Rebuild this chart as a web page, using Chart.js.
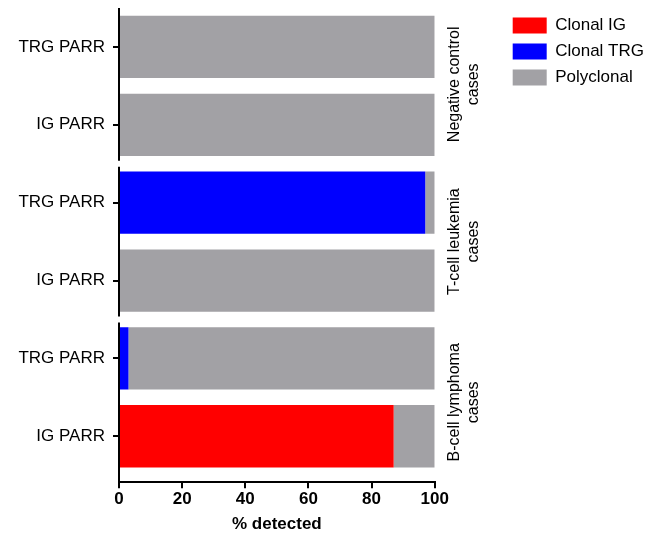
<!DOCTYPE html>
<html>
<head>
<meta charset="utf-8">
<script src="https://cdn.jsdelivr.net/npm/chart.js@4.4.1/dist/chart.umd.min.js"></script>
<style>
  html, body { margin: 0; padding: 0; background: #fff; }
  #wrap { width: 659px; height: 535px; }
</style>
</head>
<body>
<div id="wrap"><canvas id="grafico"></canvas></div>
<script>
// rows from top to bottom
const categories = ["TRG PARR", "IG PARR", "TRG PARR", "IG PARR", "TRG PARR", "IG PARR"];
const clonalIG = [0, 0, 0, 0, 0, 87];
const clonalTRG = [0, 0, 97, 0, 3, 0];
const polyclonal = [100, 100, 3, 100, 97, 13];
const xTicks = [0, 20, 40, 60, 80, 100];
// each group covers two rows
const groups = [
  { rows: [0, 1], name: ["Negative control", "cases"] },
  { rows: [2, 3], name: ["T-cell leukemia", "cases"] },
  { rows: [4, 5], name: ["B-cell lymphoma", "cases"] }
];

const fuente = "'Liberation Sans', Arial, sans-serif";

function puntos(valores) {
  return valores.map(function(v, i) { return { x: v, y: i }; });
}

// broken y axis + group labels on the right
const ejePartido = {
  id: "ejePartido",
  afterDraw(chart) {
    const ctx = chart.ctx;
    const area = chart.chartArea;
    const y = chart.scales.y;
    const hueco = 3;
    ctx.save();
    ctx.strokeStyle = "#000";
    ctx.lineWidth = 2;
    groups.forEach(function(g, k) {
      let top = k === 0 ? area.top : y.getPixelForValue(g.rows[0] - 0.5) + hueco;
      let bottom = k === groups.length - 1 ? area.bottom : y.getPixelForValue(g.rows[1] + 0.5) - hueco;
      ctx.beginPath();
      ctx.moveTo(area.left, top);
      ctx.lineTo(area.left, bottom);
      ctx.stroke();

      const mid = (top + bottom) / 2;
      ctx.save();
      ctx.translate(area.right + 20, mid);
      ctx.rotate(-Math.PI / 2);
      ctx.fillStyle = "#000";
      ctx.font = "16px " + fuente;
      ctx.textAlign = "center";
      ctx.textBaseline = "middle";
      ctx.fillText(g.name[0], 0, 0);
      ctx.fillText(g.name[1], 0, 19);
      ctx.restore();
    });
    ctx.restore();
  }
};

new Chart(document.getElementById("grafico").getContext("2d"), {
  type: "bar",
  data: {
    datasets: [{
      label: "Clonal IG",
      data: puntos(clonalIG),
      backgroundColor: "#ff0000"
    }, {
      label: "Clonal TRG",
      data: puntos(clonalTRG),
      backgroundColor: "#0000ff"
    }, {
      label: "Polyclonal",
      data: puntos(polyclonal),
      backgroundColor: "#a2a1a5"
    }]
  },
  options: {
    indexAxis: "y",
    responsive: true,
    maintainAspectRatio: false,
    animation: false,
    layout: { padding: { left: 12, top: 8, right: 5, bottom: 0 } },
    datasets: { bar: { categoryPercentage: 1, barPercentage: 0.8 } },
    scales: {
      x: {
        type: "linear",
        stacked: true,
        min: 0,
        max: 100,
        afterBuildTicks(s) { s.ticks = xTicks.map(function(v) { return { value: v }; }); },
        border: { display: true, color: "#000", width: 2 },
        grid: { drawOnChartArea: false, drawTicks: true, tickLength: 6, color: "#000", lineWidth: 2 },
        ticks: { color: "#000", padding: 1, font: { family: fuente, size: 17, weight: "bold" } },
        title: {
          display: true,
          text: "% detected",
          color: "#000",
          padding: { top: 4, bottom: 0 },
          font: { family: fuente, size: 17, weight: "bold" }
        }
      },
      y: {
        type: "linear",
        stacked: true,
        reverse: true,
        offset: false,
        min: -0.5,
        max: 5.59,
        afterFit(s) { s.paddingTop = 0; s.paddingBottom = 0; },
        border: { display: false },
        grid: { offset: false, drawOnChartArea: false, drawTicks: true, tickLength: 6, color: "#000", lineWidth: 2 },
        ticks: {
          stepSize: 1,
          includeBounds: false,
          autoSkip: false,
          padding: 8,
          color: "#000",
          font: { family: fuente, size: 17 },
          callback: function(v) { return categories[v] !== undefined ? categories[v] : ""; }
        }
      },
      // reserves room for the group labels
      y2: {
        type: "linear",
        position: "right",
        display: true,
        grid: { display: false },
        border: { display: false },
        ticks: { display: false },
        afterFit(s) { s.width = 69; }
      }
    },
    plugins: {
      legend: {
        position: "right",
        align: "start",
        maxWidth: 170,
        labels: {
          boxWidth: 34,
          boxHeight: 16,
          padding: 9,
          color: "#000",
          font: { family: fuente, size: 17 }
        }
      },
      tooltip: { enabled: false }
    }
  },
  plugins: [ejePartido]
});
</script>
</body>
</html>
